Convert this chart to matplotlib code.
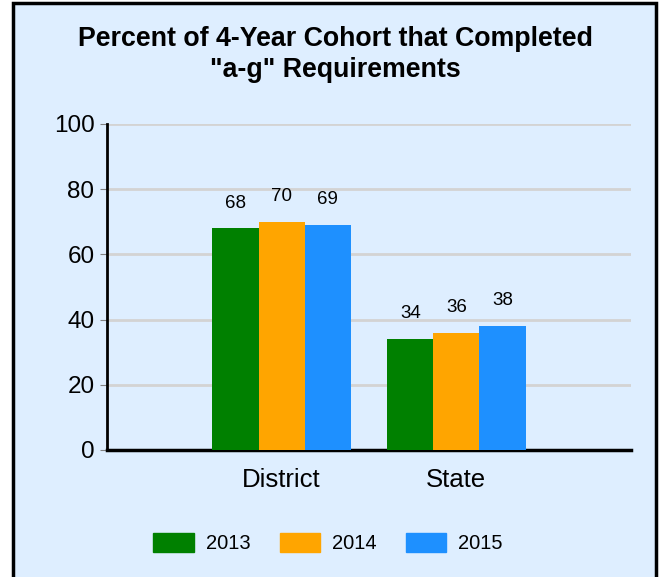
import matplotlib.pyplot as plt
from matplotlib.patches import Rectangle, Patch
import numpy as np

plt.rcParams['font.family'] = ['Liberation Sans', 'DejaVu Sans']

categories = ['District', 'State']
years = ['2013', '2014', '2015']
values = {
    '2013': [68, 34],
    '2014': [70, 36],
    '2015': [69, 38],
}
colors = ['#008000', '#FFA500', '#1E90FF']
bg = '#DEEEFF'

fig = plt.figure(figsize=(6.6, 5.77), dpi=100)
fig.patch.set_facecolor('white')

# panel frame
W, H = 660, 577
fig.patches.append(Rectangle((13 / W, -0.05), (656 - 13) / W, 1.05 - 3 / H,
                             transform=fig.transFigure, facecolor=bg,
                             edgecolor='black', linewidth=2.5, zorder=-1))

ax = fig.add_axes([107 / W, 1 - 450 / H, (631 - 107) / W, (450 - 124) / H])
ax.set_zorder(1)
ax.patch.set_alpha(0)

x = np.arange(len(categories))
width = 0.264
for i, yr in enumerate(years):
    bars = ax.bar(x + (i - 1) * width, values[yr], width, color=colors[i],
                  label=yr, zorder=3)
    for b, v in zip(bars, values[yr]):
        ax.annotate(str(v), (b.get_x() + b.get_width() / 2, v),
                    xytext=(0, 12), textcoords='offset points',
                    ha='center', va='bottom', fontsize=13.5)

ax.set_xlim(-1, 2)
ax.set_ylim(0, 100)
ax.set_yticks([0, 20, 40, 60, 80, 100])
ax.set_xticks(x)
ax.set_xticklabels(categories)
ax.yaxis.grid(True, color='#D3D3D3', linewidth=2, zorder=0)
for s in ['top', 'right']:
    ax.spines[s].set_visible(False)
ax.spines['left'].set_linewidth(2)
ax.spines['bottom'].set_linewidth(2.5)
ax.tick_params(axis='y', labelsize=17.5, length=5, color='gray', pad=4)
ax.tick_params(axis='x', labelsize=18.5, length=0, pad=13)

fig.text(335 / W, 1 - 54.5 / H, 'Percent of 4-Year Cohort that Completed\n"a-g" Requirements',
         ha='center', va='center', fontsize=19.3, fontweight='bold', linespacing=1.23)

handles = [Patch(facecolor=c, edgecolor=c) for c in colors]
fig.legend(handles, years, loc='center', bbox_to_anchor=(328 / W, 1 - 543 / H),
           ncol=3, frameon=False, fontsize=14.5, handlelength=2.0, handleheight=1.1,
           columnspacing=1.45, handletextpad=0.6)

fig.savefig('out.png', dpi=100, facecolor=fig.get_facecolor())
